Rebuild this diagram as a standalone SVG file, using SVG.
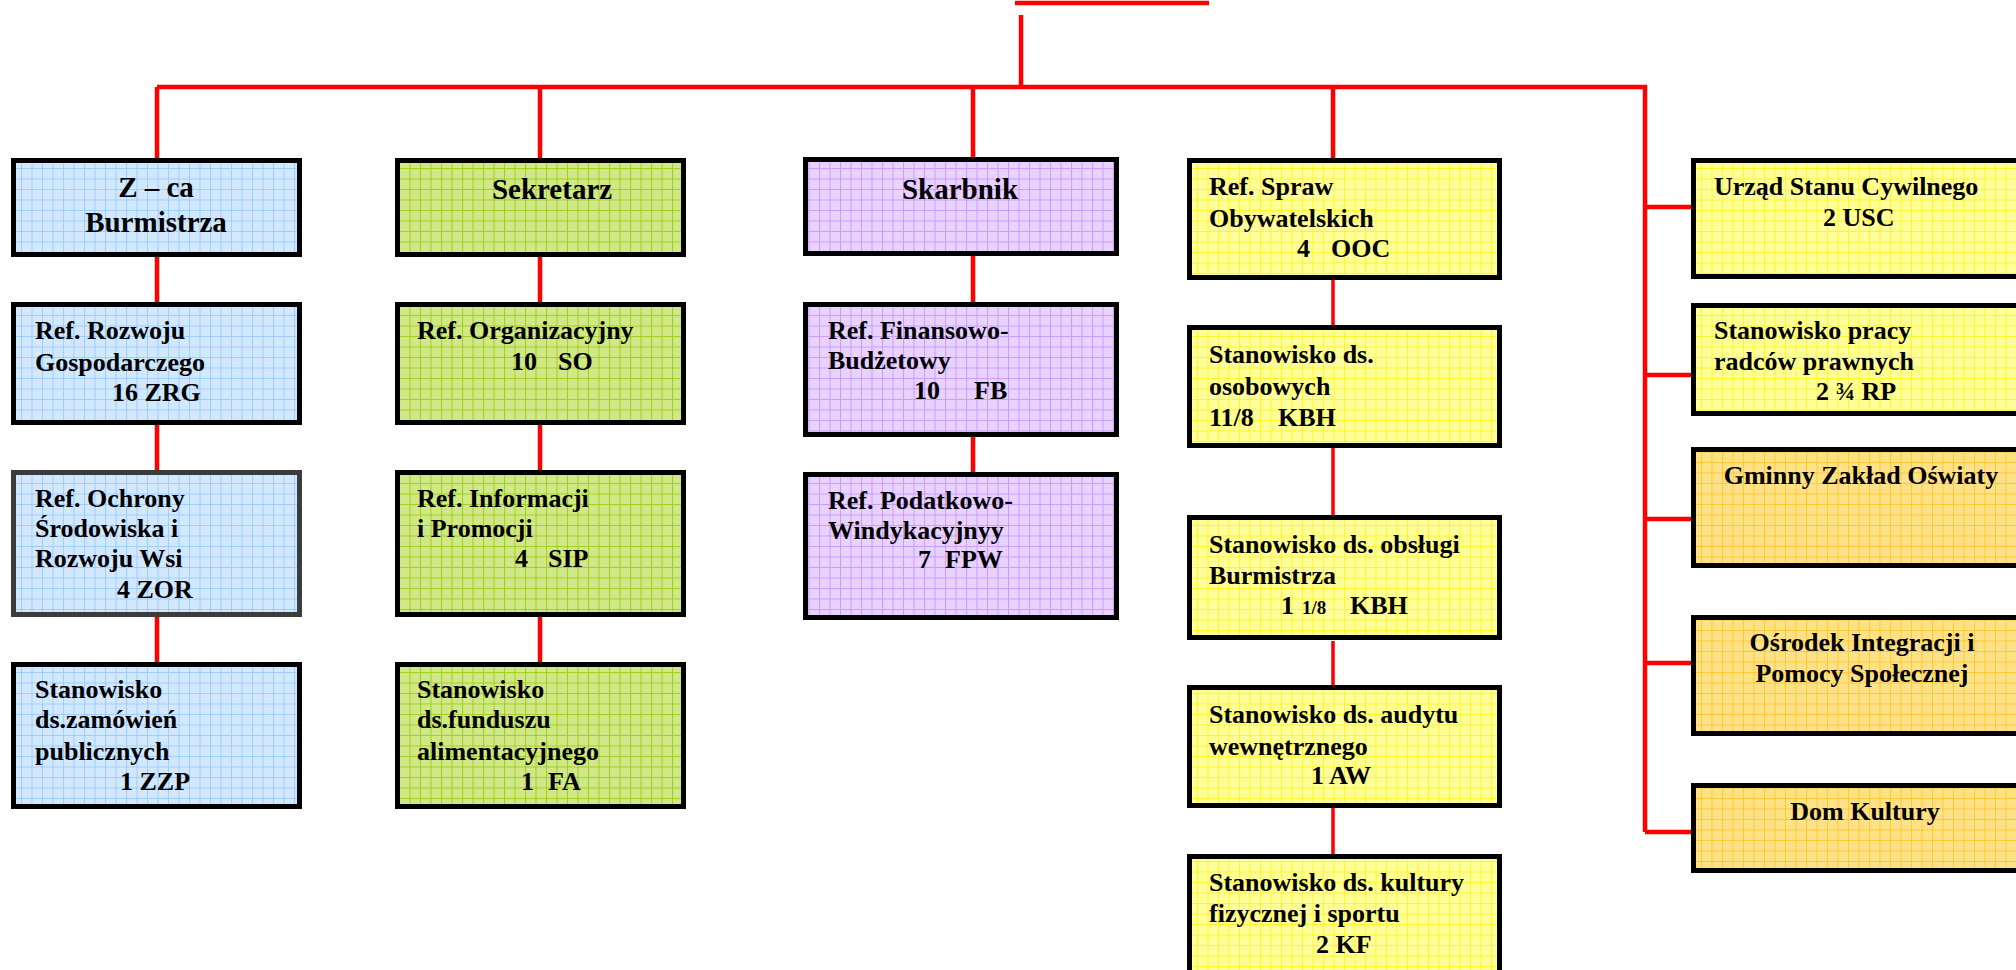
<svg xmlns="http://www.w3.org/2000/svg" width="2016" height="970" viewBox="0 0 2016 970">
<defs>
<pattern id="pBlue" width="10.5" height="10.5" patternUnits="userSpaceOnUse"><rect width="10.5" height="10.5" fill="#D2E8FF"/><path d="M0 0.5H10.5M0.5 0V10.5" stroke="#9FCDFF" stroke-width="1"/></pattern>
<pattern id="pGreen" width="10.5" height="10.5" patternUnits="userSpaceOnUse"><rect width="10.5" height="10.5" fill="#D1E886"/><path d="M0 0.5H10.5M0.5 0V10.5" stroke="#A2CF22" stroke-width="1"/></pattern>
<pattern id="pPurple" width="10.5" height="10.5" patternUnits="userSpaceOnUse"><rect width="10.5" height="10.5" fill="#E8D2FF"/><path d="M0 0.5H10.5M0.5 0V10.5" stroke="#CC9BFF" stroke-width="1"/></pattern>
<pattern id="pYellow" width="10.5" height="10.5" patternUnits="userSpaceOnUse"><rect width="10.5" height="10.5" fill="#FFFF99"/><path d="M0 0.5H10.5M0.5 0V10.5" stroke="#FFF52E" stroke-width="1"/></pattern>
<pattern id="pOrange" width="10.5" height="10.5" patternUnits="userSpaceOnUse"><rect width="10.5" height="10.5" fill="#FFE288"/><path d="M0 0.5H10.5M0.5 0V10.5" stroke="#FFC933" stroke-width="1"/></pattern>
</defs>
<style>
.box{stroke:#000;stroke-width:5}
.gray{stroke:#3C3C3C}
.b{fill:url(#pBlue)} .g{fill:url(#pGreen)} .p{fill:url(#pPurple)} .y{fill:url(#pYellow)} .o{fill:url(#pOrange)}
text{font-family:"Liberation Serif","Times New Roman",serif;font-weight:bold;font-size:26px;fill:#000}
.t{font-size:29px}
.c{text-anchor:middle}
.sm{font-size:19px}
.ln{stroke:#FF0000;stroke-width:4.5;fill:none}
</style>
<g id="connectors" class="ln">
<path d="M1015 3H1209"/>
<path d="M1021 15V87"/>
<path d="M157 87H1645V832"/>
<path d="M157 87V158M540 87V158M973 87V157M1333 87V158"/>
<path d="M157 257V302M157 425V470M157 617V662"/>
<path d="M540 257V302M540 425V470M540 617V662"/>
<path d="M973 256V302M973 437V472"/>
<path d="M1333 280V326M1333 447V518M1333 641V687M1333 808V854" stroke-width="3.5"/>
<path d="M1645 207H1691M1645 375H1691M1645 519H1691M1645 663H1691M1645 832H1691"/>
</g>
<g id="n-zca"><rect class="box b" x="13.5" y="160.5" width="286" height="94"/><text class="t c" x="156" y="197">Z – ca</text><text class="t c" x="156" y="232">Burmistrza</text></g>
<g id="n-zrg"><rect class="box b" x="13.5" y="304.5" width="286" height="118"/><text x="35" y="339">Ref. Rozwoju</text><text x="35" y="371">Gospodarczego</text><text x="112" y="401">16 ZRG</text></g>
<g id="n-zor"><rect class="box b gray" x="13.5" y="472.5" width="286" height="142"/><text x="35" y="507">Ref. Ochrony</text><text x="35" y="537">Środowiska i</text><text x="35" y="567">Rozwoju Wsi</text><text x="117" y="598">4 ZOR</text></g>
<g id="n-zzp"><rect class="box b" x="13.5" y="664.5" width="286" height="142"/><text x="35" y="698">Stanowisko</text><text x="35" y="728">ds.zamówień</text><text x="35" y="760">publicznych</text><text x="120" y="790">1 ZZP</text></g>

<g id="n-sekretarz"><rect class="box g" x="397.5" y="160.5" width="286" height="94"/><text class="t c" x="552" y="199">Sekretarz</text></g>
<g id="n-so"><rect class="box g" x="397.5" y="304.5" width="286" height="118"/><text x="417" y="339">Ref. Organizacyjny</text><text x="511" y="370">10</text><text x="558" y="370">SO</text></g>
<g id="n-sip"><rect class="box g" x="397.5" y="472.5" width="286" height="142"/><text x="417" y="507">Ref. Informacji</text><text x="417" y="537">i Promocji</text><text x="515" y="567">4</text><text x="548" y="567">SIP</text></g>
<g id="n-fa"><rect class="box g" x="397.5" y="664.5" width="286" height="142"/><text x="417" y="698">Stanowisko</text><text x="417" y="728">ds.funduszu</text><text x="417" y="760">alimentacyjnego</text><text x="521" y="790">1</text><text x="548" y="790">FA</text></g>

<g id="n-skarbnik"><rect class="box p" x="805.5" y="159.5" width="311" height="94"/><text class="t c" x="960" y="199">Skarbnik</text></g>
<g id="n-fb"><rect class="box p" x="805.5" y="304.5" width="311" height="130"/><text x="828" y="339">Ref. Finansowo-</text><text x="828" y="369">Budżetowy</text><text x="914" y="399">10</text><text x="974" y="399">FB</text></g>
<g id="n-fpw"><rect class="box p" x="805.5" y="474.5" width="311" height="143"/><text x="828" y="509">Ref. Podatkowo-</text><text x="828" y="539">Windykacyjnyy</text><text x="918" y="568">7</text><text x="945" y="568">FPW</text></g>

<g id="n-ooc"><rect class="box y" x="1189.5" y="160.5" width="310" height="117"/><text x="1209" y="195">Ref. Spraw</text><text x="1209" y="227">Obywatelskich</text><text x="1297" y="257">4</text><text x="1331" y="257">OOC</text></g>
<g id="n-osob"><rect class="box y" x="1189.5" y="327.5" width="310" height="118"/><text x="1209" y="363">Stanowisko ds.</text><text x="1209" y="395">osobowych</text><text x="1209" y="426">11/8</text><text x="1278" y="426">KBH</text></g>
<g id="n-obsl"><rect class="box y" x="1189.5" y="517.5" width="310" height="120"/><text x="1209" y="553">Stanowisko ds. obsługi</text><text x="1209" y="584">Burmistrza</text><text x="1281" y="614">1</text><text class="sm" x="1302" y="614">1/8</text><text x="1350" y="614">KBH</text></g>
<g id="n-aw"><rect class="box y" x="1189.5" y="687.5" width="310" height="118"/><text x="1209" y="723">Stanowisko ds. audytu</text><text x="1209" y="755">wewnętrznego</text><text x="1311" y="784">1 AW</text></g>
<g id="n-kf"><rect class="box y" x="1189.5" y="856.5" width="310" height="140"/><text x="1209" y="891">Stanowisko ds. kultury</text><text x="1209" y="922">fizycznej i sportu</text><text x="1316" y="953">2 KF</text></g>

<g id="n-usc"><rect class="box y" x="1693.5" y="160.5" width="360" height="116"/><text x="1714" y="195">Urząd Stanu Cywilnego</text><text x="1823" y="226">2 USC</text></g>
<g id="n-rp"><rect class="box y" x="1693.5" y="305.5" width="360" height="108"/><text x="1714" y="339">Stanowisko pracy</text><text x="1714" y="370">radców prawnych</text><text x="1816" y="400">2 ¾  RP</text></g>
<g id="n-gzo"><rect class="box o" x="1693.5" y="449.5" width="360" height="116"/><text class="c" x="1861" y="484">Gminny Zakład Oświaty</text></g>
<g id="n-oips"><rect class="box o" x="1693.5" y="617.5" width="360" height="116"/><text class="c" x="1862" y="651">Ośrodek Integracji i</text><text class="c" x="1862" y="682">Pomocy Społecznej</text></g>
<g id="n-dk"><rect class="box o" x="1693.5" y="785.5" width="360" height="85"/><text class="c" x="1865" y="820">Dom Kultury</text></g>
</svg>
